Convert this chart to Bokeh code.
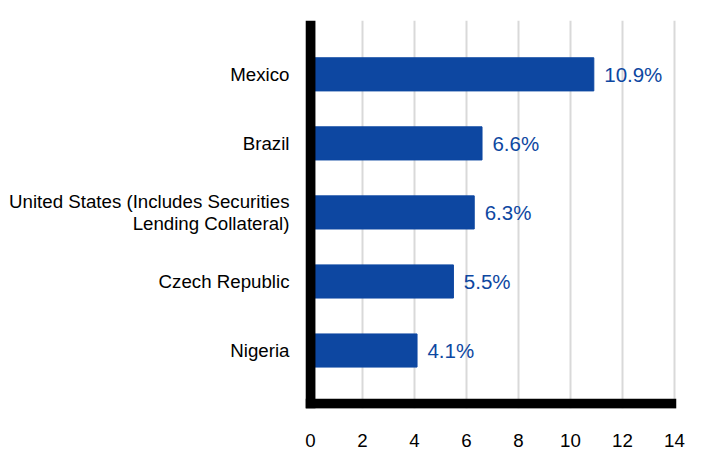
from bokeh.plotting import figure
from bokeh.models import Span, FixedTicker, Range1d, ColumnDataSource
from bokeh.core.properties import value
from bokeh.embed import file_html
from bokeh.resources import INLINE

countries = ["Nigeria", "Czech Republic",
             "United States (Includes Securities\nLending Collateral)",
             "Brazil", "Mexico"]
values = [4.1, 5.5, 6.3, 6.6, 10.9]
labels = ["4.1%", "5.5%", "6.3%", "6.6%", "10.9%"]
xticks = [0, 2, 4, 6, 8, 10, 12, 14]

pos = list(range(len(countries)))
src = ColumnDataSource(dict(y=pos, v=values, lab=labels,
                            lx=[v + 0.4 for v in values]))

p = figure(width=700, height=460, frame_width=371, frame_height=388,
           min_border_left=305, min_border_right=24, min_border_top=20,
           min_border_bottom=52,
           x_range=Range1d(-0.19, 14.08), y_range=Range1d(-0.84, 4.78),
           output_backend="svg", toolbar_location=None)
p.outline_line_color = None

p.hbar(y="y", right="v", left=0, height=0.48, source=src,
       fill_color="#0d47a1", line_color="#0d47a1")
p.text(x="lx", y="y", text="lab", source=src, text_color="#0d47a1",
       text_font_size="20.5px", text_baseline="middle", text_align="left",
       text_font=value("Liberation Sans"))

p.xgrid.ticker = FixedTicker(ticks=xticks[1:])
p.xgrid.grid_line_color = "#d9d9d9"
p.xgrid.grid_line_width = 2
p.ygrid.grid_line_color = None

p.add_layout(Span(location=0, dimension="height", line_color="black", line_width=10))
p.add_layout(Span(location=-0.77, dimension="width", line_color="black", line_width=10))

p.xaxis.ticker = FixedTicker(ticks=xticks)
p.yaxis.ticker = FixedTicker(ticks=pos)
p.yaxis.major_label_overrides = {i: c for i, c in enumerate(countries)}
for ax in (p.xaxis, p.yaxis):
    ax.axis_line_color = None
    ax.major_tick_line_color = None
    ax.minor_tick_line_color = None
    ax.major_label_text_font = "Liberation Sans"
    ax.major_label_text_font_size = "18.7px"
    ax.major_label_text_color = "black"
    ax.major_label_text_line_height = 1.05
p.xaxis.major_label_standoff = 19
p.yaxis.major_label_standoff = 10

open("out.html", "w").write(file_html(p, INLINE))
